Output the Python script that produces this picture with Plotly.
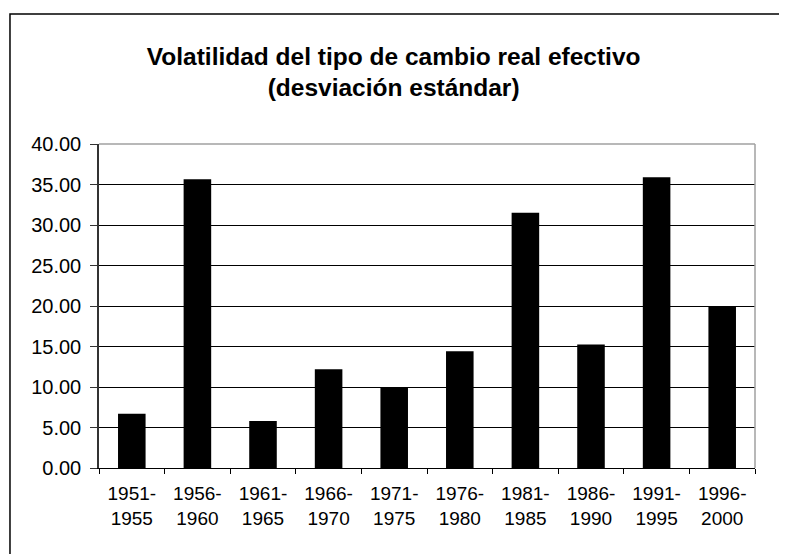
import plotly.graph_objects as go

periods = ["1951-<br>1955", "1956-<br>1960", "1961-<br>1965", "1966-<br>1970", "1971-<br>1975",
           "1976-<br>1980", "1981-<br>1985", "1986-<br>1990", "1991-<br>1995", "1996-<br>2000"]
volatility = [6.7, 35.65, 5.8, 12.2, 10.0, 14.4, 31.5, 15.25, 35.9, 19.9]
y_ticks = [0, 5, 10, 15, 20, 25, 30, 35, 40]

FONT = "Arial, 'Liberation Sans', sans-serif"

fig = go.Figure(go.Bar(
    x=periods, y=volatility,
    marker=dict(color="black", line=dict(color="black", width=0)),
))

fig.update_layout(
    width=787, height=554,
    margin=dict(l=91, r=40, t=136, b=94),
    paper_bgcolor="white", plot_bgcolor="white",
    bargap=0.58,
    showlegend=False,
    font=dict(family=FONT, color="black", size=19),
    title=dict(
        text="Volatilidad del tipo de cambio real efectivo<br>(desviación estándar)",
        x=0.49, xref="container", xanchor="center",
        y=0.898, yref="container", yanchor="top",
        font=dict(family=FONT, size=24.5, color="black", weight="bold"),
    ),
    xaxis=dict(
        showline=True, linecolor="black", linewidth=1,
        ticks="outside", ticklen=5, tickcolor="black", tickson="boundaries",
        showgrid=False, tickfont=dict(size=19), ticklabelstandoff=8,
    ),
    yaxis=dict(
        range=[0, 40], tickvals=y_ticks, tickformat=".2f",
        showline=True, linecolor="#333", linewidth=1.5,
        ticks="outside", ticklen=7, tickcolor="#333",
        showgrid=True, gridcolor="black", gridwidth=1,
        zeroline=False, tickfont=dict(size=20), ticklabelstandoff=5,
    ),
    shapes=[
        # plot-area border (top and right, gray)
        dict(type="line", xref="paper", yref="paper", x0=0, x1=1, y0=1, y1=1,
             line=dict(color="#a0a0a0", width=1.5), layer="above"),
        dict(type="line", xref="paper", yref="paper", x0=1, x1=1, y0=0, y1=1,
             line=dict(color="#a0a0a0", width=1.5), layer="above"),
        # outer chart border (bottom edge cropped)
        dict(type="rect", xref="paper", yref="paper", x0=-0.1357, x1=1.0564, y0=-0.6, y1=1.401,
             line=dict(color="black", width=1.5), fillcolor="rgba(0,0,0,0)", layer="above"),
    ],
)

fig.write_html("out.html")
